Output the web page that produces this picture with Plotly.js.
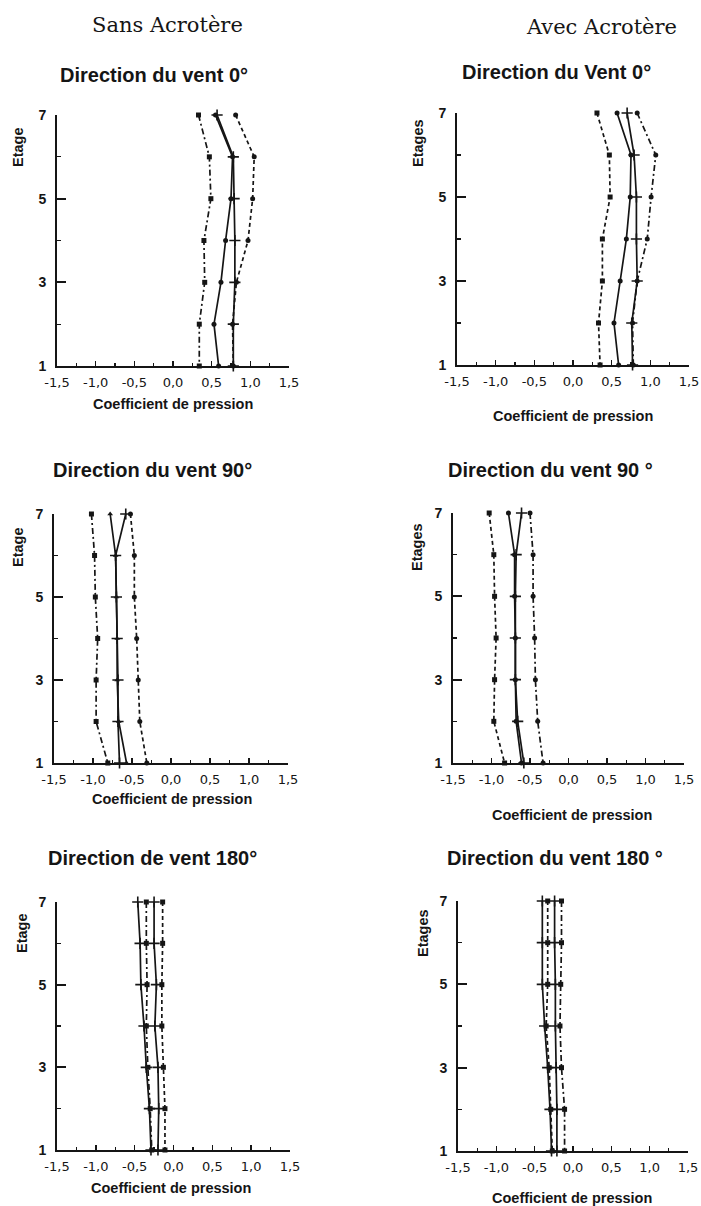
<!DOCTYPE html>
<html>
<head>
<meta charset="utf-8">
<script src="https://cdn.plot.ly/plotly-3.0.1.min.js"></script>
<style>html,body{margin:0;padding:0;background:#fff;}#chart{width:701px;height:1206px;}</style>
</head>
<body>
<div id="chart"></div>
<script>
// ---- data ----
const floors = [7, 6, 5, 4, 3, 2, 1];
const xTickVals = [-1.5, -1.0, -0.5, 0.0, 0.5, 1.0, 1.5];
const xTickText = ['-1,5', '-1,0', '-0,5', '0,0', '0,5', '1,0', '1,5'];
const yTickVals = [1, 3, 5, 7];
const yTickText = ['1', '3', '5', '7'];

const headers = ['Sans Acrotère', 'Avec Acrotère'];
const panelTitles = ['Direction du vent 0°', 'Direction du Vent 0°',
  'Direction du vent 90°', 'Direction du vent 90 °',
  'Direction de vent 180°', 'Direction du vent 180 °'];
const xAxisTitle = 'Coefficient de pression';
const yAxisTitles = ['Etage', 'Etages', 'Etage', 'Etages', 'Etage', 'Etages'];

// Sans acrotère, 0°
const s0_dashdot = [0.33, 0.47, 0.49, 0.40, 0.41, 0.34, 0.34];
const s0_solid   = [0.55, 0.77, 0.75, 0.68, 0.62, 0.53, 0.59];
const s0_plus    = [0.57, 0.78, 0.79, 0.80, 0.80, 0.78, 0.78];
const s0_dash    = [0.81, 1.05, 1.03, 0.97, 0.82, 0.77, 0.78];
// Avec acrotère, 0°
const a0_dash    = [0.31, 0.47, 0.48, 0.38, 0.38, 0.33, 0.35];
const a0_solid   = [0.57, 0.75, 0.74, 0.69, 0.61, 0.53, 0.59];
const a0_plus    = [0.70, 0.79, 0.82, 0.82, 0.83, 0.76, 0.77];
const a0_dashdot = [0.83, 1.07, 1.01, 0.96, 0.83, 0.77, 0.78];
// Sans acrotère, 90°
const s90_dashdot = [-1.02, -0.98, -0.97, -0.94, -0.96, -0.96, -0.81];
const s90_solid   = [-0.78, -0.71, -0.70, -0.69, -0.69, -0.67, -0.57];
const s90_plus    = [-0.58, -0.71, -0.70, -0.69, -0.68, -0.68, -0.66];
const s90_dash    = [-0.52, -0.47, -0.47, -0.44, -0.42, -0.40, -0.31];
// Avec acrotère, 90°
const a90_dash    = [-1.03, -0.97, -0.96, -0.94, -0.96, -0.97, -0.83];
const a90_solid   = [-0.78, -0.70, -0.70, -0.69, -0.69, -0.68, -0.61];
const a90_plus    = [-0.61, -0.68, -0.69, -0.69, -0.69, -0.66, -0.58];
const a90_dashdot = [-0.50, -0.46, -0.46, -0.44, -0.43, -0.40, -0.33];
// Sans acrotère, 180°
const s180_solidL  = [-0.46, -0.43, -0.42, -0.38, -0.35, -0.31, -0.29];
const s180_dashdot = [-0.35, -0.35, -0.34, -0.35, -0.33, -0.30, -0.28];
const s180_solidR  = [-0.25, -0.25, -0.22, -0.24, -0.20, -0.19, -0.20];
const s180_dash    = [-0.14, -0.14, -0.15, -0.15, -0.13, -0.11, -0.11];
// Avec acrotère, 180°
const a180_solidL  = [-0.40, -0.40, -0.40, -0.37, -0.33, -0.30, -0.28];
const a180_dash    = [-0.33, -0.33, -0.33, -0.35, -0.31, -0.29, -0.27];
const a180_solidR  = [-0.24, -0.24, -0.23, -0.23, -0.22, -0.21, -0.21];
const a180_dashdot = [-0.15, -0.15, -0.16, -0.17, -0.15, -0.11, -0.11];

// ---- layout helpers ----
const W = 701, H = 1206;
const px = x => x / W;
const py = y => 1 - y / H;
const INK = '#151515';
const DASH = '4px,3px';
const DASHDOT = '6px,3px,2px,3px';

// panel boxes in pixels [x0, x1, yTop, yBottom]
const boxes = [
  [57, 289, 115, 366], [457, 689, 113, 365],
  [54, 288, 514, 763], [453, 684, 513, 763],
  [57, 290, 902, 1150], [458, 688, 901, 1151]
];

function tr(x, ax, dash, sym, size) {
  const cross = sym === 'cross-thin';
  const d = dash === 'dash' ? DASH : (dash === 'dashdot' ? DASHDOT : 'solid');
  return {
    x: x, y: floors, xaxis: 'x' + (ax === 1 ? '' : ax), yaxis: 'y' + (ax === 1 ? '' : ax),
    type: 'scatter', mode: 'lines+markers', cliponaxis: false, showlegend: false,
    line: {color: INK, width: 1.7, dash: d},
    marker: cross ? {symbol: sym, size: size || 8, line: {color: INK, width: 1.6}, color: INK}
                  : {symbol: sym, size: size || 5, color: INK}
  };
}

const data = [
  tr(s0_dashdot, 1, 'dashdot', 'square'), tr(s0_solid, 1, 'solid', 'circle'),
  tr(s0_plus, 1, 'solid', 'cross-thin'), tr(s0_dash, 1, 'dash', 'circle'),
  tr(a0_dash, 2, 'dash', 'square'), tr(a0_solid, 2, 'solid', 'circle'),
  tr(a0_plus, 2, 'solid', 'cross-thin'), tr(a0_dashdot, 2, 'dashdot', 'circle'),
  tr(s90_dashdot, 3, 'dashdot', 'square'), tr(s90_solid, 3, 'solid', 'triangle-up'),
  tr(s90_plus, 3, 'solid', 'cross-thin'), tr(s90_dash, 3, 'dash', 'circle'),
  tr(a90_dash, 4, 'dash', 'square'), tr(a90_solid, 4, 'solid', 'circle'),
  tr(a90_plus, 4, 'solid', 'cross-thin'), tr(a90_dashdot, 4, 'dashdot', 'circle'),
  tr(s180_solidL, 5, 'solid', 'cross-thin'), tr(s180_dashdot, 5, 'dashdot', 'square'),
  tr(s180_solidR, 5, 'solid', 'cross-thin'), tr(s180_dash, 5, 'dash', 'square'),
  tr(a180_solidL, 6, 'solid', 'cross-thin'), tr(a180_dash, 6, 'dash', 'square'),
  tr(a180_solidR, 6, 'solid', 'cross-thin'), tr(a180_dashdot, 6, 'dashdot', 'square')
];

const layout = {
  width: W, height: H,
  margin: {l: 0, r: 0, t: 0, b: 0},
  paper_bgcolor: '#fff', plot_bgcolor: '#fff',
  showlegend: false,
  font: {family: 'Liberation Sans, Arial, sans-serif', color: INK},
  annotations: []
};

boxes.forEach((b, i) => {
  const n = i + 1, s = n === 1 ? '' : String(n);
  layout['xaxis' + s] = {
    domain: [px(b[0]), px(b[1])], anchor: 'y' + s, range: [-1.5, 1.5],
    showline: true, linecolor: INK, linewidth: 2, mirror: false,
    showgrid: false, zeroline: false, fixedrange: true,
    tickmode: 'array', tickvals: xTickVals, ticktext: xTickText,
    ticks: 'inside', ticklen: 5, tickwidth: 1.5, tickcolor: INK,
    minor: {dtick: 0.25, tick0: 0, ticks: 'inside', ticklen: 3, tickwidth: 1.2, tickcolor: INK, showgrid: false},
    tickfont: {size: 13, color: INK, family: 'DejaVu Sans, Arial, sans-serif'},
    ticklabelstandoff: 3
  };
  layout['yaxis' + s] = {
    domain: [py(b[3]), py(b[2])], anchor: 'x' + s, range: [1, 7],
    showline: true, linecolor: INK, linewidth: 2,
    showgrid: false, zeroline: false, fixedrange: true,
    tickmode: 'array', tickvals: yTickVals, ticktext: yTickText,
    ticks: 'inside', ticklen: 9, tickwidth: 2, tickcolor: INK,
    minor: {dtick: 1, tick0: 0, ticks: 'inside', ticklen: 4, tickwidth: 1.2, tickcolor: INK, showgrid: false},
    tickfont: {size: 14, color: INK, family: 'Liberation Sans, Arial, sans-serif', weight: 'bold'},
    ticklabelstandoff: 6
  };
});

function ann(text, x, y, font, rot) {
  layout.annotations.push({
    text: text, x: px(x), y: py(y), xref: 'paper', yref: 'paper',
    xanchor: 'center', yanchor: 'middle', showarrow: false, font: font, textangle: rot || 0
  });
}

const hdrFont = {family: 'DejaVu Serif, Liberation Serif, serif', size: 21, color: INK};
ann(headers[0], 167, 25, hdrFont);
ann(headers[1], 601, 27, hdrFont);

const titleFont = {family: 'Liberation Sans, Arial, sans-serif', size: 20, color: INK, weight: 'bold'};
const titlePos = [[154, 75], [556, 72], [152, 470], [550, 470], [152, 858], [555, 858]];
titlePos.forEach((p, i) => ann(panelTitles[i], p[0], p[1], titleFont));

const axFont = {family: 'Liberation Sans, Arial, sans-serif', size: 14.5, color: INK, weight: 'bold'};
const xLabPos = [[173, 404], [573, 416], [172, 799], [572, 815], [171, 1188], [572, 1198]];
xLabPos.forEach(p => ann(xAxisTitle, p[0], p[1], axFont));
const yLabPos = [[18, 147], [418, 143], [18, 547], [417, 547], [22, 933], [423, 933]];
yLabPos.forEach((p, i) => ann(yAxisTitles[i], p[0], p[1], axFont, -90));

Plotly.newPlot('chart', data, layout, {staticPlot: true, displayModeBar: false});
</script>
</body>
</html>
